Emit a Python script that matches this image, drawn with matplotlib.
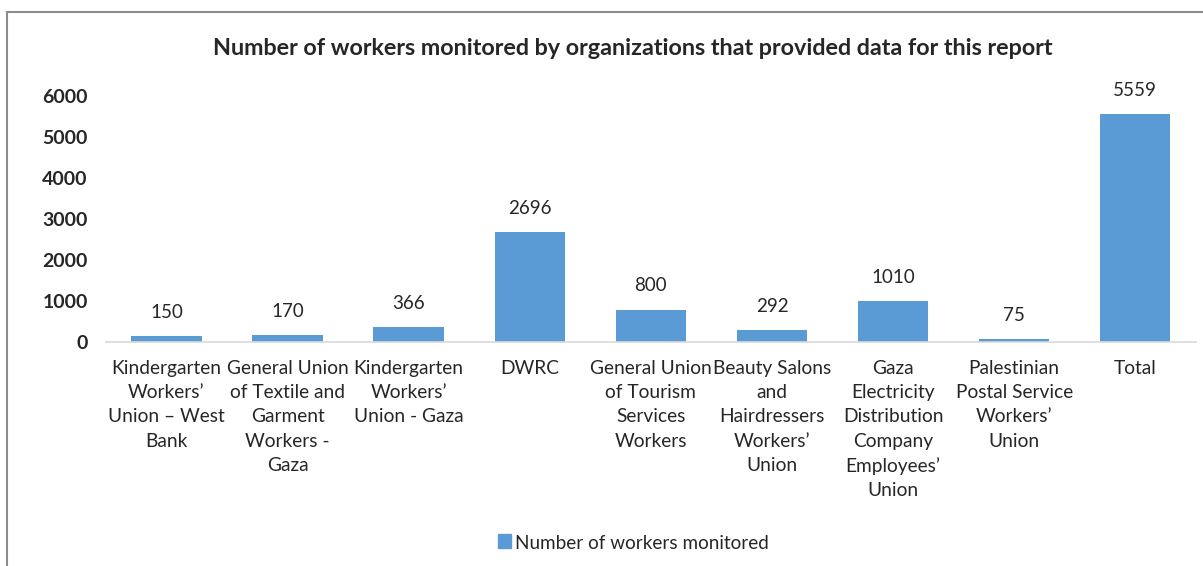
import matplotlib.pyplot as plt
from matplotlib.patches import Rectangle

plt.rcParams['font.family'] = ['Lato', 'DejaVu Sans']

categories = [
    "Kindergarten\nWorkers’\nUnion – West\nBank",
    "General Union\nof Textile and\nGarment\nWorkers -\nGaza",
    "Kindergarten\nWorkers’\nUnion - Gaza",
    "DWRC",
    "General Union\nof Tourism\nServices\nWorkers",
    "Beauty Salons\nand\nHairdressers\nWorkers’\nUnion",
    "Gaza\nElectricity\nDistribution\nCompany\nEmployees’\nUnion",
    "Palestinian\nPostal Service\nWorkers’\nUnion",
    "Total",
]
workers = [150, 170, 366, 2696, 800, 292, 1010, 75, 5559]
yticks = [0, 1000, 2000, 3000, 4000, 5000, 6000]

bar_color = '#5b9bd5'
text_color = '#262626'

fig = plt.figure(figsize=(12.03, 5.66), dpi=100)
ax = fig.add_axes([0.088, 0.395, 0.906, 0.435])

x = range(len(categories))
bars = ax.bar(x, workers, width=0.58, color=bar_color)

for xi, v in zip(x, workers):
    ax.annotate(str(v), (xi, v), xytext=(0, 11), textcoords='offset points',
                ha='center', va='bottom', fontsize=13.5, color=text_color)

ax.set_xlim(-0.5, len(categories) - 0.5)
ax.set_ylim(0, 6000)
ax.set_yticks(yticks)
ax.set_yticklabels([str(t) for t in yticks], fontweight='bold', fontsize=14,
                   color=text_color)
ax.set_xticks(list(x))
ax.set_xticklabels(categories, fontsize=13.8, color=text_color, linespacing=1.52,
                   va='top')
ax.tick_params(axis='both', length=0)
ax.tick_params(axis='x', pad=12.5)
ax.tick_params(axis='y', pad=13)

for s in ['top', 'right', 'left']:
    ax.spines[s].set_visible(False)
ax.spines['bottom'].set_color('#d9d9d9')
ax.spines['bottom'].set_linewidth(1.2)

fig.text(0.526, 0.915, "Number of workers monitored by organizations that provided data for this report",
         ha='center', va='center', fontsize=16.8, fontweight='bold', color=text_color)

# legend
fig.patches.append(Rectangle((0.414, 0.032), 0.011, 0.024, transform=fig.transFigure,
                             color=bar_color))
fig.text(0.428, 0.040, "Number of workers monitored", ha='left', va='center',
         fontsize=13.6, color=text_color)

# chart border
fig.patches.append(Rectangle((0.006, -0.05), 1.1, 1.028, transform=fig.transFigure,
                             fill=False, edgecolor='#8c8c8c', linewidth=1.5))

fig.savefig('out.png', dpi=100)
